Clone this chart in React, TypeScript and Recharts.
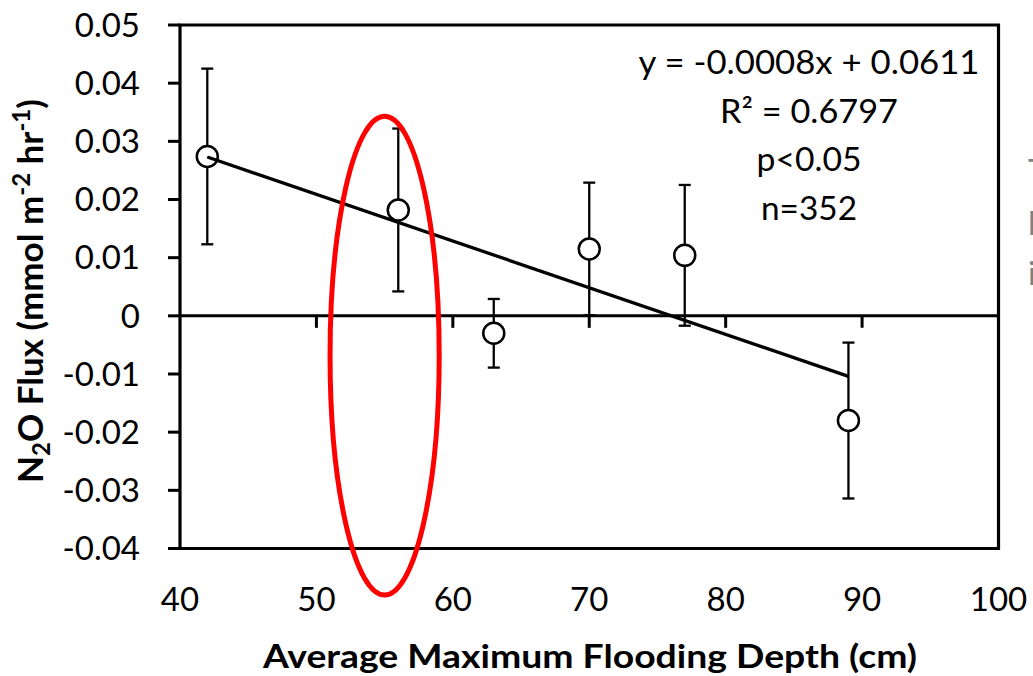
import {
  ComposedChart,
  Scatter,
  ErrorBar,
  XAxis,
  YAxis,
  ReferenceArea,
  ReferenceLine,
  Customized,
} from "recharts";

// flooding depth (cm) vs mean N2O flux, with error bars
const depths = [42, 56, 63, 70, 77, 89];
const fluxes = [0.0274, 0.0182, -0.003, 0.0115, 0.0104, -0.018];
const errors = [0.0151, 0.014, 0.0059, 0.0114, 0.0121, 0.0134];

// fitted line end points
const trendX = [42, 89];
const trendY = [0.0273, -0.0104];

const xTicks = [40, 50, 60, 70, 80, 90, 100];
const yTicks = [-0.04, -0.03, -0.02, -0.01, 0, 0.01, 0.02, 0.03, 0.04, 0.05];
const zeroTicks = [50, 60, 70, 80, 90, 100];

// highlighted region (red ellipse)
const ringX = [51, 59];
const ringY = [-0.048, 0.0343];

const statLines = ["y = -0.0008x + 0.0611", "R\u00B2 = 0.6797", "p<0.05", "n=352"];

const FONT = "Lato, 'Open Sans', sans-serif";

const points = depths.map((d, i) => ({ x: d, y: fluxes[i], err: errors[i] }));
const trend = trendX.map((x, i) => ({ x, y: trendY[i] }));
const zeroTickData = zeroTicks.map((x) => ({ x, y: 0 }));

const fmtY = (v: number) => (v === 0 ? "0" : v.toFixed(2));

function Annotations() {
  const widths = [341, 178, 105, 96];
  const baselines = [74, 123, 171, 220];
  return (
    <g fontFamily={FONT} fontSize={33} fill="#000">
      {statLines.map((t, i) => (
        <text
          key={t}
          x={809}
          y={baselines[i]}
          textAnchor="middle"
          textLength={widths[i]}
          lengthAdjust="spacingAndGlyphs"
        >
          {t}
        </text>
      ))}
      <text
        x={43}
        y={291}
        transform="rotate(-90 43 291)"
        textAnchor="middle"
        fontWeight="bold"
        fontSize={35}
      >
        N
        <tspan dy={7} fontSize={24}>2</tspan>
        <tspan dy={-7}>O Flux (mmol m</tspan>
        <tspan dy={-13} fontSize={24}>-2</tspan>
        <tspan dy={13}> hr</tspan>
        <tspan dy={-13} fontSize={24}>-1</tspan>
        <tspan dy={13}>)</tspan>
      </text>
      <text
        x={590}
        y={668}
        textAnchor="middle"
        fontWeight="bold"
        fontSize={33}
        textLength={654}
        lengthAdjust="spacingAndGlyphs"
      >
        Average Maximum Flooding Depth (cm)
      </text>
      <g fill="#808080" fontSize={33}>
        <text x={1028} y={183}>T</text>
        <text x={1028} y={235}>l</text>
        <text x={1028} y={285}>i</text>
      </g>
    </g>
  );
}

export default function App() {
  return (
    <div style={{ position: "absolute", left: 0, top: 0, background: "#fff" }}>
      <ComposedChart
        width={1033}
        height={676}
        margin={{ top: 25, right: 34.5, bottom: 0, left: 0 }}
      >
        <XAxis
          type="number"
          dataKey="x"
          domain={[40, 100]}
          ticks={xTicks}
          axisLine={false}
          tickLine={false}
          tickSize={0}
          tickMargin={39}
          height={127.5}
          tick={{ fill: "#000", fontSize: 33, fontFamily: FONT }}
          allowDataOverflow
        />
        <YAxis
          type="number"
          dataKey="y"
          domain={[-0.04, 0.05]}
          ticks={yTicks}
          width={180}
          axisLine={false}
          tickLine={{ stroke: "#000", strokeWidth: 3 }}
          tickSize={12}
          tickMargin={28}
          tickFormatter={fmtY}
          tick={{ fill: "#000", fontSize: 33, fontFamily: FONT }}
          allowDataOverflow
        />
        <ReferenceArea
          x1={40}
          x2={100}
          y1={-0.04}
          y2={0.05}
          fill="none"
          fillOpacity={0}
          stroke="#000"
          strokeWidth={3.2}
        />
        <ReferenceLine y={0} stroke="#000" strokeWidth={3} />
        <Scatter
          data={zeroTickData}
          isAnimationActive={false}
          shape={(p: any) => (
            <line x1={p.cx} y1={p.cy} x2={p.cx} y2={p.cy + 12} stroke="#000" strokeWidth={3} />
          )}
        />
        <Scatter
          data={points}
          isAnimationActive={false}
          shape={(p: any) => (
            <circle cx={p.cx} cy={p.cy} r={10.5} fill="#fff" stroke="#000" strokeWidth={2.5} />
          )}
        >
          <ErrorBar
            dataKey="err"
            direction="y"
            width={6}
            stroke="#000"
            strokeWidth={2.3}
            isAnimationActive={false}
          />
        </Scatter>
        <Scatter
          data={trend}
          isAnimationActive={false}
          line={{ stroke: "#000", strokeWidth: 3.3 }}
          lineType="joint"
          shape={() => <g />}
        />
        <ReferenceArea
          x1={ringX[0]}
          x2={ringX[1]}
          y1={ringY[0]}
          y2={ringY[1]}
          ifOverflow="visible"
          zIndex={2000}
          shape={(p: any) => (
            <ellipse
              cx={p.x + p.width / 2}
              cy={p.y + p.height / 2}
              rx={Math.abs(p.width) / 2}
              ry={Math.abs(p.height) / 2}
              fill="none"
              stroke="#ff0000"
              strokeWidth={5}
            />
          )}
        />
        <Customized component={Annotations} />
      </ComposedChart>
    </div>
  );
}
